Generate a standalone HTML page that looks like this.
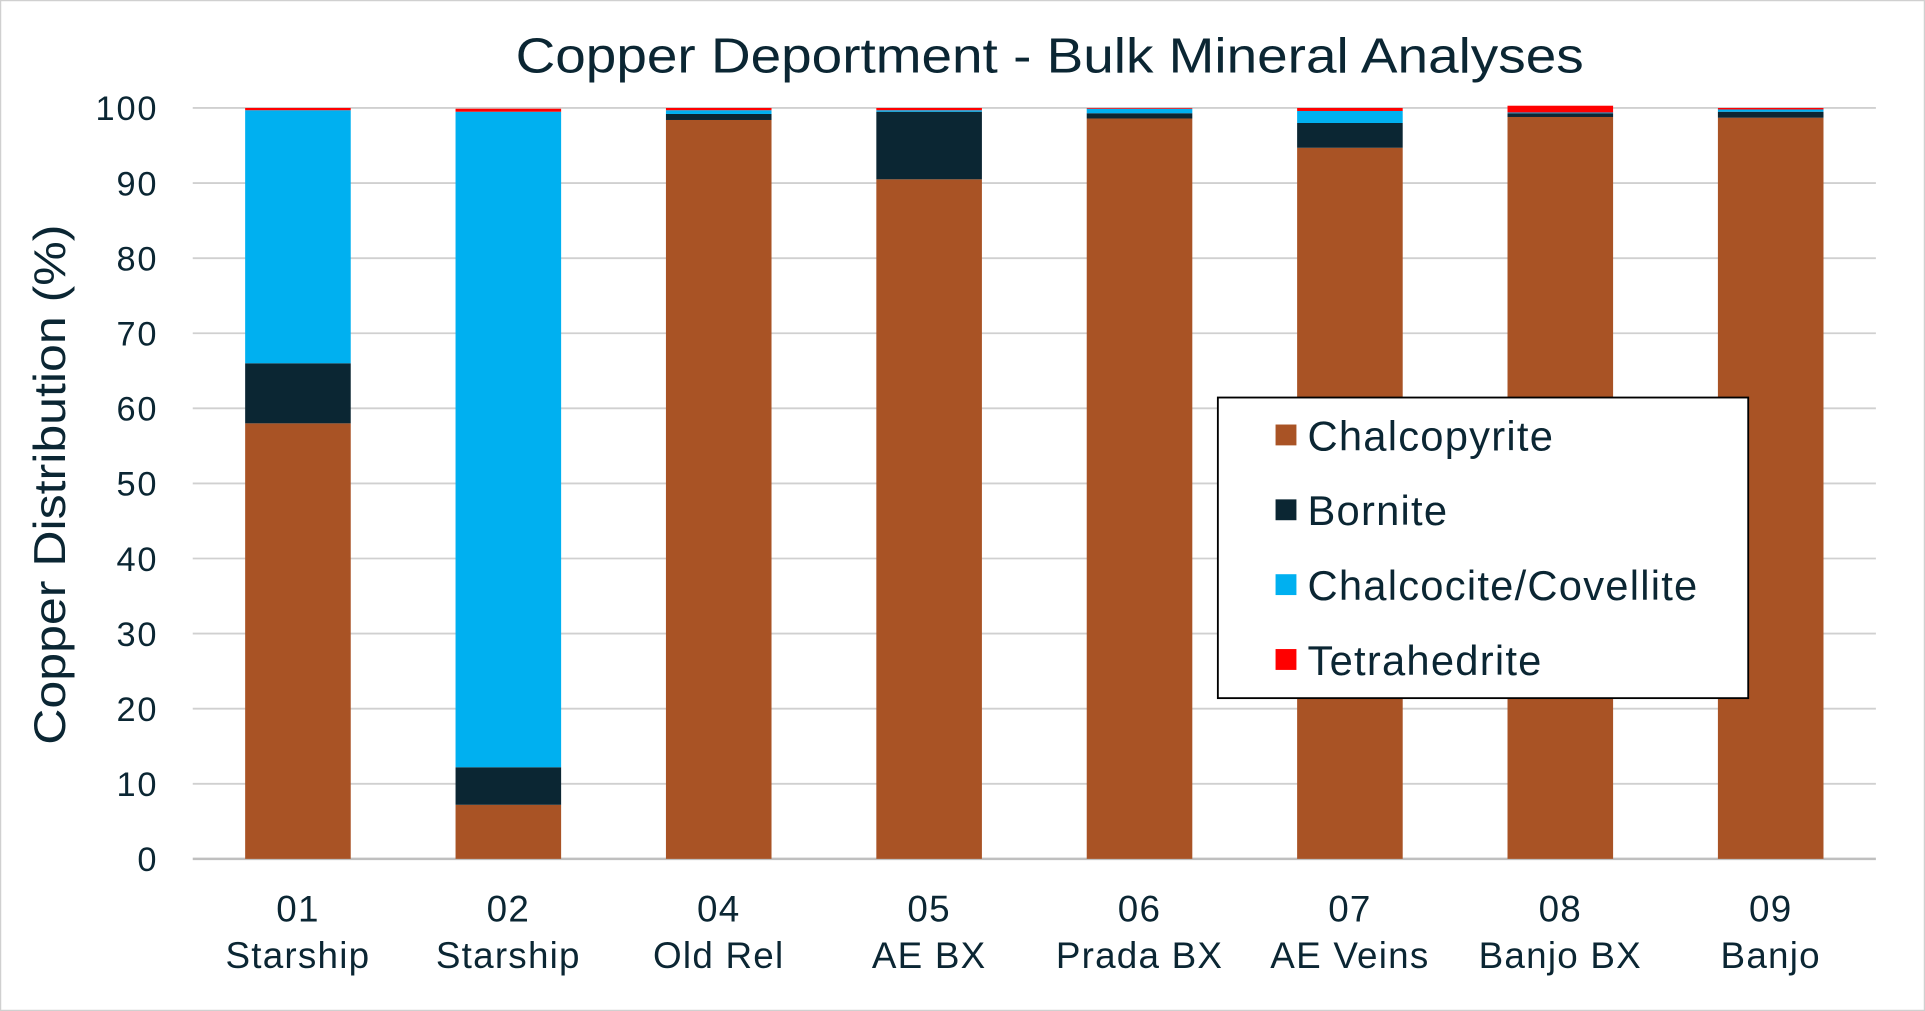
<!DOCTYPE html>
<html><head><meta charset="utf-8"><style>
html,body{margin:0;padding:0;background:#fff;}
svg{display:block;font-family:"Liberation Sans",Arial,sans-serif;}
</style></head><body>
<svg id="chart" width="1925" height="1011" viewBox="0 0 1568 824" preserveAspectRatio="none">
<rect x="0.5" y="0.5" width="1567" height="823" fill="#fff" stroke="#d0d0d0"/>
<text x="855" y="59" text-anchor="middle" font-size="40" textLength="870" lengthAdjust="spacingAndGlyphs" fill="#0b2633">Copper Deportment - Bulk Mineral Analyses</text>
<text transform="translate(53,395) rotate(-90)" text-anchor="middle" font-size="36" textLength="424" lengthAdjust="spacingAndGlyphs" fill="#0b2633">Copper Distribution (%)</text>
<g id="grid"></g><g id="bars"></g><g id="xlabels"></g>
<g>
<rect x="992" y="324" width="432" height="245" fill="#fff" stroke="#000" stroke-width="1.5"/>
<g id="legend-items"></g>
</g>
</svg>
<script>
const categories=[["01","Starship"],["02","Starship"],["04","Old Rel"],["05","AE BX"],["06","Prada BX"],["07","AE Veins"],["08","Banjo BX"],["09","Banjo"]];
const seriesNames=["Chalcopyrite","Bornite","Chalcocite/Covellite","Tetrahedrite"];
const chalcopyrite=[58,7.2,98.4,90.5,98.6,94.7,98.8,98.7];
const bornite=[8,5,0.8,9.0,0.7,3.3,0.5,0.8];
const chalcocite=[33.7,87.3,0.5,0.2,0.6,1.6,0.1,0.3];
const tetrahedrite=[0.3,0.4,0.3,0.3,0.1,0.4,0.9,0.2];
const yTicks=[0,10,20,30,40,50,60,70,80,90,100];
const colors=["#a95325","#0b2633","#00b0f0","#ff0000"];
const NS="http://www.w3.org/2000/svg";
const x0=157,x1=1528,yTop=88,yBot=700;
const y=v=>yBot-(v/100)*(yBot-yTop);
const band=(x1-x0)/categories.length;
const xc=i=>x0+band*(i+0.5);
const bw=86;
function mk(tag,attrs,parent,txt){const e=document.createElementNS(NS,tag);for(const k in attrs)e.setAttribute(k,attrs[k]);if(txt!==undefined)e.textContent=txt;parent.appendChild(e);return e;}
const grid=document.getElementById('grid');
yTicks.forEach(t=>{
  const l=mk('line',{x1:x0,x2:x1,y1:y(t),y2:y(t),stroke:t===0?'#bfbfbf':'#d0d0d0','stroke-width':t===0?2:1.5},grid);
  
  
  const tx=mk('text',{x:129,y:y(t)+10,'text-anchor':'end','font-size':28,'letter-spacing':'1.5',fill:'#0b2633'},grid,String(t));
  
  
});
const series=[chalcopyrite,bornite,chalcocite,tetrahedrite];
const bars=document.getElementById('bars');
categories.forEach((c,i)=>{
  let base=0;
  series.forEach((s,k)=>{
    const v=s[i];
    const r=mk('rect',{x:xc(i)-bw/2,y:y(base+v),width:bw,height:Math.max(0,y(base)-y(base+v)),fill:colors[k]},bars);
    
    
    base+=v;
  });
  const xl=document.getElementById('xlabels');
  const t1=mk('text',{x:xc(i),y:751,'text-anchor':'middle','font-size':30,'letter-spacing':'1',fill:'#0b2633'},xl,c[0]);
  
  
  const t2=mk('text',{x:xc(i),y:789,'text-anchor':'middle','font-size':30,'letter-spacing':'1',fill:'#0b2633'},xl,c[1]);
  
  
});
const li=document.getElementById('legend-items');
seriesNames.forEach((n,k)=>{
  const cy=355+k*61;
  const sw=mk('rect',{x:1039,y:cy-9,width:17,height:17,fill:colors[k]},li);
  
  
  const t=mk('text',{x:1065,y:cy+12,'font-size':34,'letter-spacing':'1',fill:'#0b2633'},li,n);
  
  
});
</script>
</body></html>
